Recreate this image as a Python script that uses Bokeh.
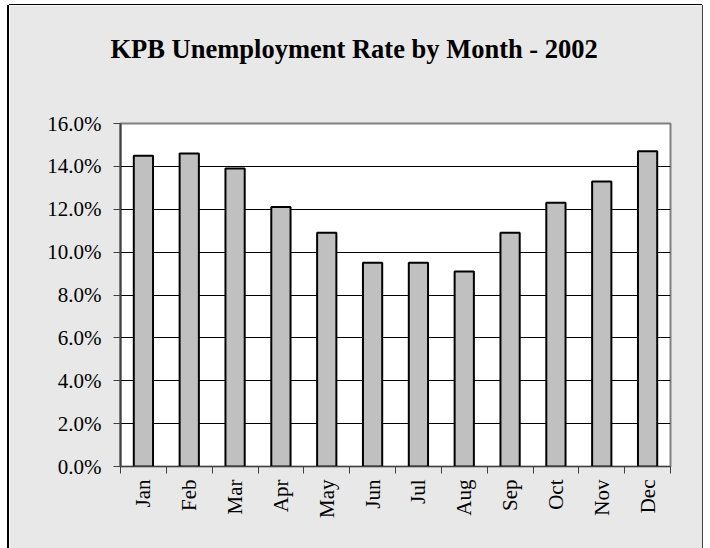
from bokeh.plotting import figure
from bokeh.models import FixedTicker, PrintfTickFormatter, Range1d, ColumnDataSource, InlineStyleSheet, Title
from bokeh.embed import file_html
from bokeh.resources import INLINE
import math

months = ["Jan", "Feb", "Mar", "Apr", "May", "Jun", "Jul", "Aug", "Sep", "Oct", "Nov", "Dec"]
rates = [14.5, 14.6, 13.9, 12.1, 10.9, 9.5, 9.5, 9.1, 10.9, 12.3, 13.3, 14.7]
y_ticks = [0, 2, 4, 6, 8, 10, 12, 14, 16]
title_text = "KPB Unemployment Rate by Month - 2002"

centers = [i + 0.5 for i in range(len(months))]
src = ColumnDataSource(dict(x=centers, top=rates, m=months))

SERIF = "Liberation Serif"
BG = "#E8E8E8"

css = InlineStyleSheet(css=""":host {
  margin-left: 9px; margin-top: 5px;
  box-shadow: -2px 0 0 0 black, 0 -1px 0 0 black, 1px 0 0 0 #404040;
}""")

p = figure(width=693, height=543, output_backend="svg", toolbar_location=None,
           x_range=Range1d(0, len(months)), y_range=Range1d(0, 16),
           min_border_left=111, min_border_right=32, min_border_top=118, min_border_bottom=82,
           stylesheets=[css])
p.background_fill_color = "white"
p.border_fill_color = BG
p.outline_line_color = "#808080"
p.outline_line_width = 2

# spacer between frame and title, then the title itself
p.add_layout(Title(text=" ", text_font_size="1px", standoff=57), "above")
p.add_layout(Title(text=title_text, text_font=SERIF, text_font_size="26.5px",
                   text_font_style="bold", text_color="black", align="left",
                   offset=-10, standoff=0), "above")

p.vbar(x="x", top="top", width=0.42, source=src, fill_color="#C0C0C0",
       line_color="black", line_width=2)

# x axis
xa = p.xaxis[0]
xa.ticker = FixedTicker(ticks=centers, minor_ticks=list(range(len(months) + 1)))
xa.major_label_overrides = {c: m for c, m in zip(centers, months)}
xa.major_tick_line_color = None
xa.minor_tick_line_color = "#404040"
xa.minor_tick_out = 7
xa.minor_tick_in = 0
xa.axis_line_color = "#404040"
xa.axis_line_width = 1
xa.major_label_orientation = math.pi / 2
xa.major_label_standoff = 6
xa.major_label_text_font = SERIF
xa.major_label_text_font_size = "21px"
xa.major_label_text_color = "black"

# y axis
ya = p.yaxis[0]
ya.ticker = FixedTicker(ticks=y_ticks, minor_ticks=[])
ya.formatter = PrintfTickFormatter(format="%.1f%%")
ya.major_tick_line_color = "#404040"
ya.major_tick_out = 7
ya.major_tick_in = 0
ya.axis_line_color = "#404040"
ya.axis_line_width = 2
ya.major_label_standoff = 12
ya.major_label_text_font = SERIF
ya.major_label_text_font_size = "21px"
ya.major_label_text_color = "black"

p.xgrid.grid_line_color = None
p.ygrid.ticker = FixedTicker(ticks=y_ticks)
p.ygrid.grid_line_color = "black"
p.ygrid.grid_line_width = 1

open("out.html", "w").write(file_html(p, INLINE))
